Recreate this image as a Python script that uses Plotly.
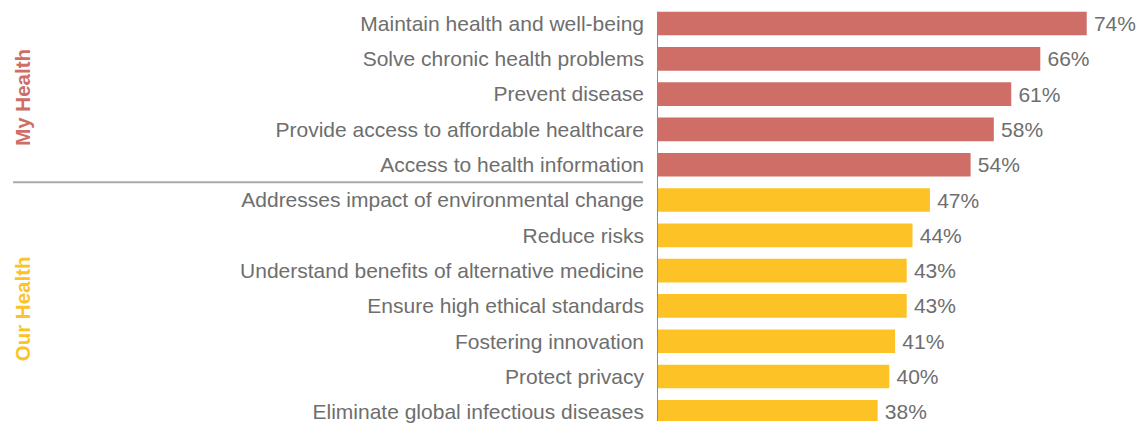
import plotly.graph_objects as go

categories = [
    "Maintain health and well-being",
    "Solve chronic health problems",
    "Prevent disease",
    "Provide access to affordable healthcare",
    "Access to health information",
    "Addresses impact of environmental change",
    "Reduce risks",
    "Understand benefits of alternative medicine",
    "Ensure high ethical standards",
    "Fostering innovation",
    "Protect privacy",
    "Eliminate global infectious diseases",
]
values = [74, 66, 61, 58, 54, 47, 44, 43, 43, 41, 40, 38]
groups = ["My Health"] * 5 + ["Our Health"] * 7
group_colors = {"My Health": "#CE6E66", "Our Health": "#FDC326"}

positions = list(range(len(categories)))
colors = [group_colors[g] for g in groups]

TEXT_GRAY = "#6e6e6e"
FONT = "Liberation Sans, Arial, Helvetica, sans-serif"

fig = go.Figure()
fig.add_trace(go.Bar(
    x=values,
    y=positions,
    orientation="h",
    marker=dict(color=colors, line=dict(width=0)),
    width=0.67,
    texttemplate="\u2009%{x}%",
    textposition="outside",
    textfont=dict(size=21, color=TEXT_GRAY, family=FONT),
    constraintext="none",
    cliponaxis=False,
    hoverinfo="skip",
))

y_top = -0.496
y_bottom = 11.26

fig.update_layout(
    width=1139,
    height=423,
    margin=dict(l=657, r=0, t=6, b=0),
    paper_bgcolor="white",
    plot_bgcolor="white",
    showlegend=False,
    font=dict(family=FONT, color=TEXT_GRAY, size=21),
    xaxis=dict(range=[0, 83.0], visible=False, fixedrange=True),
    yaxis=dict(
        range=[y_bottom, y_top],
        tickvals=positions,
        ticktext=categories,
        tickfont=dict(size=21, color=TEXT_GRAY, family=FONT),
        showgrid=False,
        zeroline=False,
        showline=False,
        ticks="",
        ticklabelstandoff=12,
        ticklabeloverflow="allow",
        fixedrange=True,
    ),
)

# vertical axis line
fig.add_shape(type="line", xref="x", yref="y", x0=0, x1=0, y0=-0.335, y1=y_bottom,
              line=dict(color="#8c8c8c", width=2), layer="above")

# separator between groups
fig.add_shape(type="line", xref="paper", yref="y", x0=-1.336, x1=-0.029, y0=4.5, y1=4.5,
              line=dict(color="#aaaaaa", width=2))

# group labels
group_names = ["My Health", "Our Health"]
group_centers = [2.1, 8.09]
for name, yc in zip(group_names, group_centers):
    fig.add_annotation(
        xref="paper", yref="y", x=-1.317, y=yc,
        text=f"<b>{name}</b>", textangle=-90, showarrow=False,
        xanchor="center", yanchor="middle",
        font=dict(size=20.5, color=group_colors[name], family=FONT),
    )

fig.write_html("out.html")
